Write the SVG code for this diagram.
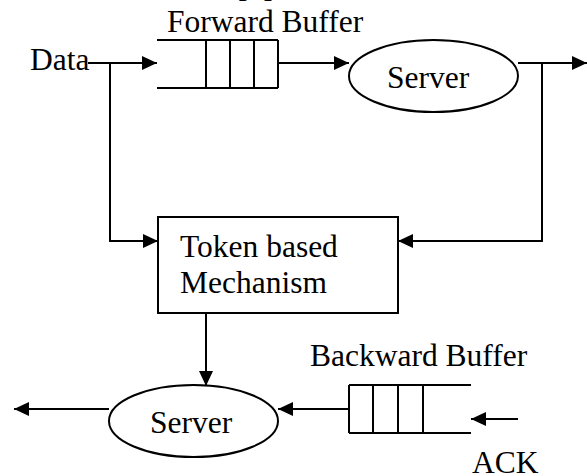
<svg xmlns="http://www.w3.org/2000/svg" width="587" height="476" viewBox="0 0 587 476">
  <defs>
    <marker id="arrow" viewBox="0 0 15 14" refX="15" refY="7" markerWidth="15" markerHeight="14" markerUnits="userSpaceOnUse" orient="auto">
      <path d="M0,0 L15,7 L0,14 Z" fill="#000"/>
    </marker>
    <style>
      .ln { stroke: #000; stroke-width: 2; fill: none; }
      .arr { stroke: #000; stroke-width: 2; fill: none; marker-end: url(#arrow); }
      .shape { stroke: #000; stroke-width: 2; fill: #fff; }
      text { font-family: "Liberation Serif", "Times New Roman", serif; font-size: 31.5px; fill: #000; }
    </style>
  </defs>
  <rect width="587" height="476" fill="#fff"/>

  <text x="237" y="-3">[1]</text>

  <g id="connectors">
    <!-- data into forward buffer -->
    <line class="arr" x1="88" y1="63" x2="157" y2="63"/>
    <!-- data tap to token mechanism -->
    <polyline class="arr" points="110,63 110,241 158,241"/>
    <!-- forward buffer to server -->
    <line class="arr" x1="278" y1="63" x2="349" y2="63"/>
    <!-- server output -->
    <line class="arr" x1="518" y1="63" x2="587" y2="63"/>
    <!-- server output tap to token mechanism -->
    <polyline class="arr" points="542,63 542,241 398,241"/>
    <!-- token mechanism to ack server -->
    <line class="arr" x1="206" y1="313" x2="206" y2="386"/>
    <!-- backward buffer to ack server -->
    <line class="arr" x1="349" y1="409" x2="278" y2="409"/>
    <!-- ack server output -->
    <line class="arr" x1="109" y1="409" x2="14" y2="409"/>
    <!-- ack into backward buffer -->
    <line class="arr" x1="518" y1="419" x2="471" y2="419"/>
  </g>

  <g id="data">
    <text x="30" y="70">Data</text>
  </g>

  <g id="forward-buffer">
    <text x="167" y="32">Forward Buffer</text>
    <line class="ln" x1="157" y1="40" x2="278" y2="40"/>
    <line class="ln" x1="157" y1="88" x2="278" y2="88"/>
    <line class="ln" x1="206" y1="40" x2="206" y2="88"/>
    <line class="ln" x1="230" y1="40" x2="230" y2="88"/>
    <line class="ln" x1="254" y1="40" x2="254" y2="88"/>
    <line class="ln" x1="278" y1="40" x2="278" y2="88"/>
  </g>

  <g id="forward-server">
    <ellipse class="shape" cx="433.5" cy="76" rx="84.5" ry="36"/>
    <text x="387" y="88">Server</text>
  </g>

  <g id="token-mechanism">
    <rect class="shape" x="158" y="217" width="240" height="96"/>
    <text x="180" y="257">Token based</text>
    <text x="180" y="293">Mechanism</text>
  </g>

  <g id="backward-buffer">
    <text x="310" y="366">Backward Buffer</text>
    <line class="ln" x1="349" y1="385" x2="471" y2="385"/>
    <line class="ln" x1="349" y1="433" x2="471" y2="433"/>
    <line class="ln" x1="349" y1="385" x2="349" y2="433"/>
    <line class="ln" x1="373" y1="385" x2="373" y2="433"/>
    <line class="ln" x1="398" y1="385" x2="398" y2="433"/>
    <line class="ln" x1="423" y1="385" x2="423" y2="433"/>
  </g>

  <g id="ack">
    <text x="472" y="473">ACK</text>
  </g>

  <g id="backward-server">
    <ellipse class="shape" cx="193.5" cy="421" rx="84.5" ry="36"/>
    <text x="150" y="433">Server</text>
  </g>
</svg>
